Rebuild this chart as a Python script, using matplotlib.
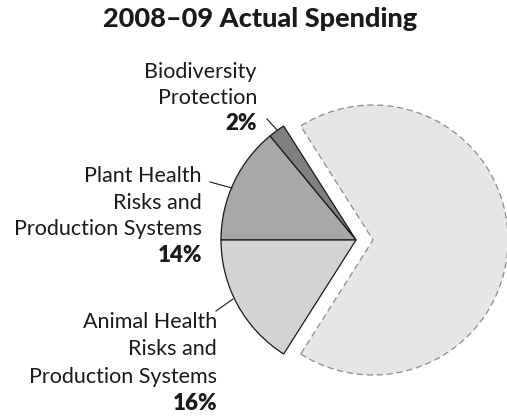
import matplotlib.pyplot as plt

# Spending shares, percent
names = ["Biodiversity\nProtection",
         "Plant Health\nRisks and\nProduction Systems",
         "Animal Health\nRisks and\nProduction Systems",
         "Other"]
shares = [2, 14, 16, 68]
colors = ["#7f7f82", "#a8a8ab", "#d3d3d5", "#e6e6e8"]

W, H = 507, 417
plt.rcParams['font.family'] = ['Lato', 'DejaVu Sans']

fig = plt.figure(figsize=(W / 100, H / 100), dpi=100)
ax = fig.add_axes([0, 0, 1, 1])

cx, cy, r = 356, H - 240, 135
# small slices end on the left horizontal, big slice fills the rest
start = 180 - 3.6 * (shares[0] + shares[1])
# explode is in data units here (pixels)
explode = [0, 0, 0, 17]
wedges, _ = ax.pie(shares, colors=colors, startangle=start, counterclock=True,
                   center=(cx, cy), radius=r, explode=explode,
                   wedgeprops=dict(edgecolor="#1a1a1a", linewidth=0.9))
big = wedges[3]
big.set_edgecolor("#8c8c8c")
big.set_linestyle((0, (5, 3)))
big.set_linewidth(0.9)

ax.set_xlim(0, W)
ax.set_ylim(0, H)
ax.set_aspect('equal', adjustable='box')
ax.axis('off')

ax.text(260, H - 27, "2008\u201309 Actual Spending", ha='center', va='baseline',
        fontsize=19.5, fontweight='black', color="#1a1a1a")

# label blocks: right edge x, first baseline (from top), line step, leader line
labels = [
    (257, 78, 26.0, (277, 130), (267, 119)),
    (202, 182, 26.7, (232, 188), (210, 182)),
    (217, 328, 27.3, (233, 299), (216, 311)),
]
for i, (x, y0, step, p_in, p_out) in enumerate(labels):
    lines = names[i].split("\n")
    for k, line in enumerate(lines):
        ax.text(x, H - (y0 + k * step), line, ha='right', va='baseline',
                fontsize=15.5, color="#1a1a1a")
    ax.text(x, H - (y0 + len(lines) * step), f"{shares[i]}%", ha='right',
            va='baseline', fontsize=16, fontweight='heavy', color="#1a1a1a")
    ax.plot([p_in[0], p_out[0]], [H - p_in[1], H - p_out[1]],
            color="#1a1a1a", linewidth=0.8)

fig.savefig("out.png", dpi=100)
